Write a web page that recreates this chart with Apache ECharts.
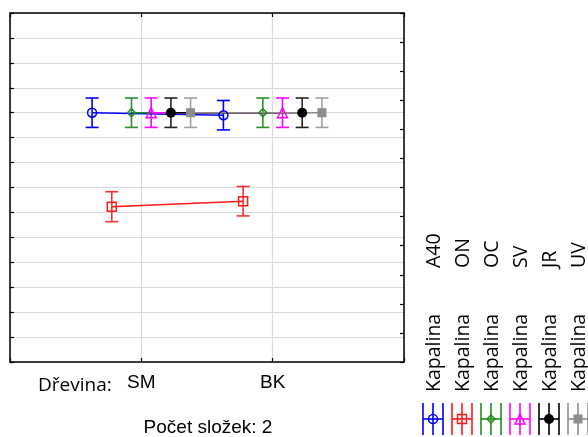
<!DOCTYPE html>
<html>
<head>
<meta charset="utf-8">
<script src="https://cdn.jsdelivr.net/npm/echarts@6/dist/echarts.min.js"></script>
<style>html,body{margin:0;padding:0;background:#fff}#c{width:588px;height:437px}</style>
</head>
<body>
<div id="c"></div>
<script>
// ---- data ----
const categories = ['SM', 'BK'];
const seriesNames = ['A40', 'ON', 'OC', 'SV', 'JR', 'UV'];
const legendPrefix = 'Kapalina';
const xGroupLabel = 'Dřevina:';
const footLabel = 'Počet složek: 2';
const valA40 = [10.0, 9.9];
const errA40 = [0.59, 0.59];
const valON = [6.23, 6.45];
const errON = [0.6, 0.59];
const valOC = [10.0, 10.0];
const errOC = [0.59, 0.59];
const valSV = [10.0, 10.0];
const errSV = [0.59, 0.59];
const valJR = [10.0, 10.0];
const errJR = [0.59, 0.59];
const valUV = [10.0, 10.0];
const errUV = [0.59, 0.59];

const values = [valA40, valON, valOC, valSV, valJR, valUV];
const errors = [errA40, errON, errOC, errSV, errJR, errUV];

// ---- styles ----
const colors = ['#0000ff', '#ff1a1a', '#1e8c1e', '#ff00ff', '#000000', '#8c8c8c'];
const barColors = ['#0000ff', '#ff3030', '#2a902a', '#ff00ff', '#222222', '#a0a0a0'];
const symbols = ['circle', 'rect', 'diamond', 'triangle', 'circle', 'rect'];
const symSizes = [9, 9, 8, 10, 10, 9];
const filled = [false, false, false, false, true, true];
const LW = 1.5;

const chart = echarts.init(document.getElementById('c'), null, {renderer: 'canvas'});

const series = [];
seriesNames.forEach((name, i) => {
  const off = (i - 2.5) * 0.15;
  const pts = categories.map((c, j) => [j + 1 + off, values[i][j]]);
  const errData = categories.map((c, j) => [j + 1 + off, values[i][j], values[i][j] - errors[i][j], values[i][j] + errors[i][j]]);
  series.push({
    type: 'custom',
    name: name + '_err',
    xAxisIndex: 0, yAxisIndex: 0,
    data: errData,
    silent: true,
    renderItem: (params, api) => {
      const x = api.value(0);
      const top = api.coord([x, api.value(3)]);
      const bot = api.coord([x, api.value(2)]);
      const hw = 6.5;
      const st = {stroke: barColors[i], lineWidth: 1.6};
      return {
        type: 'group',
        children: [
          {type: 'line', shape: {x1: top[0], y1: top[1], x2: bot[0], y2: bot[1]}, style: st},
          {type: 'line', shape: {x1: top[0] - hw, y1: top[1], x2: top[0] + hw, y2: top[1]}, style: st},
          {type: 'line', shape: {x1: bot[0] - hw, y1: bot[1], x2: bot[0] + hw, y2: bot[1]}, style: st}
        ]
      };
    }
  });
  series.push({
    type: 'line',
    name: name,
    xAxisIndex: 0, yAxisIndex: 0,
    data: pts,
    symbol: symbols[i],
    symbolSize: symSizes[i],
    showSymbol: true,
    lineStyle: {color: colors[i], width: LW},
    itemStyle: filled[i]
      ? {color: colors[i], borderColor: colors[i], borderWidth: 0}
      : {color: 'rgba(255,255,255,0)', borderColor: colors[i], borderWidth: LW},
    emphasis: {disabled: true},
    animation: false
  });
});

// ---- legend drawn as rotated graphics ----
const graphics = [];
const legX0 = 433, legStep = 29, legIconY = 419;
seriesNames.forEach((name, i) => {
  const cx = legX0 + legStep * i;
  const st = {stroke: colors[i], lineWidth: 1.6};
  graphics.push({type: 'line', shape: {x1: cx - 10, y1: legIconY, x2: cx + 10, y2: legIconY}, style: st});
  graphics.push({type: 'line', shape: {x1: cx - 10, y1: 403, x2: cx - 10, y2: 435}, style: st});
  graphics.push({type: 'line', shape: {x1: cx + 10, y1: 403, x2: cx + 10, y2: 435}, style: st});
  graphics.push({type: 'line', shape: {x1: cx, y1: 403, x2: cx, y2: 435}, style: st});
  const s = symSizes[i] / 2;
  const mst = filled[i] ? {fill: colors[i], stroke: colors[i], lineWidth: 0} : {fill: 'none', stroke: colors[i], lineWidth: LW};
  if (symbols[i] === 'circle') {
    graphics.push({type: 'circle', shape: {cx: cx, cy: legIconY, r: s}, style: mst});
  } else if (symbols[i] === 'rect') {
    graphics.push({type: 'rect', shape: {x: cx - s, y: legIconY - s, width: 2 * s, height: 2 * s}, style: mst});
  } else if (symbols[i] === 'diamond') {
    graphics.push({type: 'polygon', shape: {points: [[cx, legIconY - s], [cx + s, legIconY], [cx, legIconY + s], [cx - s, legIconY]]}, style: mst});
  } else if (symbols[i] === 'triangle') {
    graphics.push({type: 'polygon', shape: {points: [[cx, legIconY - s], [cx + s, legIconY + s], [cx - s, legIconY + s]]}, style: mst});
  }
  graphics.push({
    type: 'text', x: cx + 1, y: 392, rotation: Math.PI / 2,
    style: {text: legendPrefix, font: '19.5px "Open Sans"', fill: '#000', textAlign: 'left', textVerticalAlign: 'middle'}
  });
  graphics.push({
    type: 'text', x: cx + 1, y: 268, rotation: Math.PI / 2,
    style: {text: name, font: '19.5px "Open Sans"', fill: '#000', textAlign: 'left', textVerticalAlign: 'middle'}
  });
});
graphics.push({
  type: 'text', x: 38, y: 386,
  style: {text: xGroupLabel, font: '19px "Open Sans"', fill: '#000', textAlign: 'left', textVerticalAlign: 'middle'}
});
graphics.push({
  type: 'text', x: 208, y: 428,
  style: {text: footLabel, font: '19px "Liberation Sans"', fill: '#000', textAlign: 'center', textVerticalAlign: 'middle'}
});

const option = {
  animation: false,
  backgroundColor: '#fff',
  grid: {left: 10, top: 13, width: 394, height: 349, containLabel: false},
  xAxis: [
    {
      type: 'value', position: 'bottom', min: 0, max: 3, interval: 1,
      axisLine: {show: true, onZero: false, lineStyle: {color: '#000', width: 1.5}},
      axisTick: {show: true, inside: true, length: 4, lineStyle: {color: '#000', width: 1.2}},
      splitLine: {show: true, lineStyle: {color: '#d9d9d9', width: 1.2}},
      axisLabel: {
        show: true, margin: 11, color: '#000', fontSize: 19, fontFamily: 'Liberation Sans',
        formatter: v => (v >= 1 && v <= categories.length && Number.isInteger(v)) ? categories[v - 1] : ''
      }
    },
    {
      type: 'value', position: 'top', min: 0, max: 3, interval: 1,
      axisLine: {show: true, onZero: false, lineStyle: {color: '#000', width: 1.5}},
      axisTick: {show: true, inside: true, length: 4, lineStyle: {color: '#000', width: 1.2}},
      splitLine: {show: false},
      axisLabel: {show: false}
    }
  ],
  yAxis: [
    {
      type: 'value', position: 'left', min: 0, max: 14, interval: 1,
      axisLine: {show: true, onZero: false, lineStyle: {color: '#000', width: 1.5}},
      axisTick: {show: true, inside: true, length: 4, lineStyle: {color: '#000', width: 1.2}},
      splitLine: {show: true, lineStyle: {color: '#d9d9d9', width: 1.2}},
      axisLabel: {show: false}
    },
    {
      type: 'value', position: 'right', min: 0, max: 12, interval: 1,
      axisLine: {show: true, onZero: false, lineStyle: {color: '#000', width: 1.5}},
      axisTick: {show: true, inside: true, length: 4, lineStyle: {color: '#000', width: 1.2}},
      splitLine: {show: false},
      axisLabel: {show: false}
    }
  ],
  series: series,
  graphic: graphics
};
chart.setOption(option);
</script>
</body>
</html>
